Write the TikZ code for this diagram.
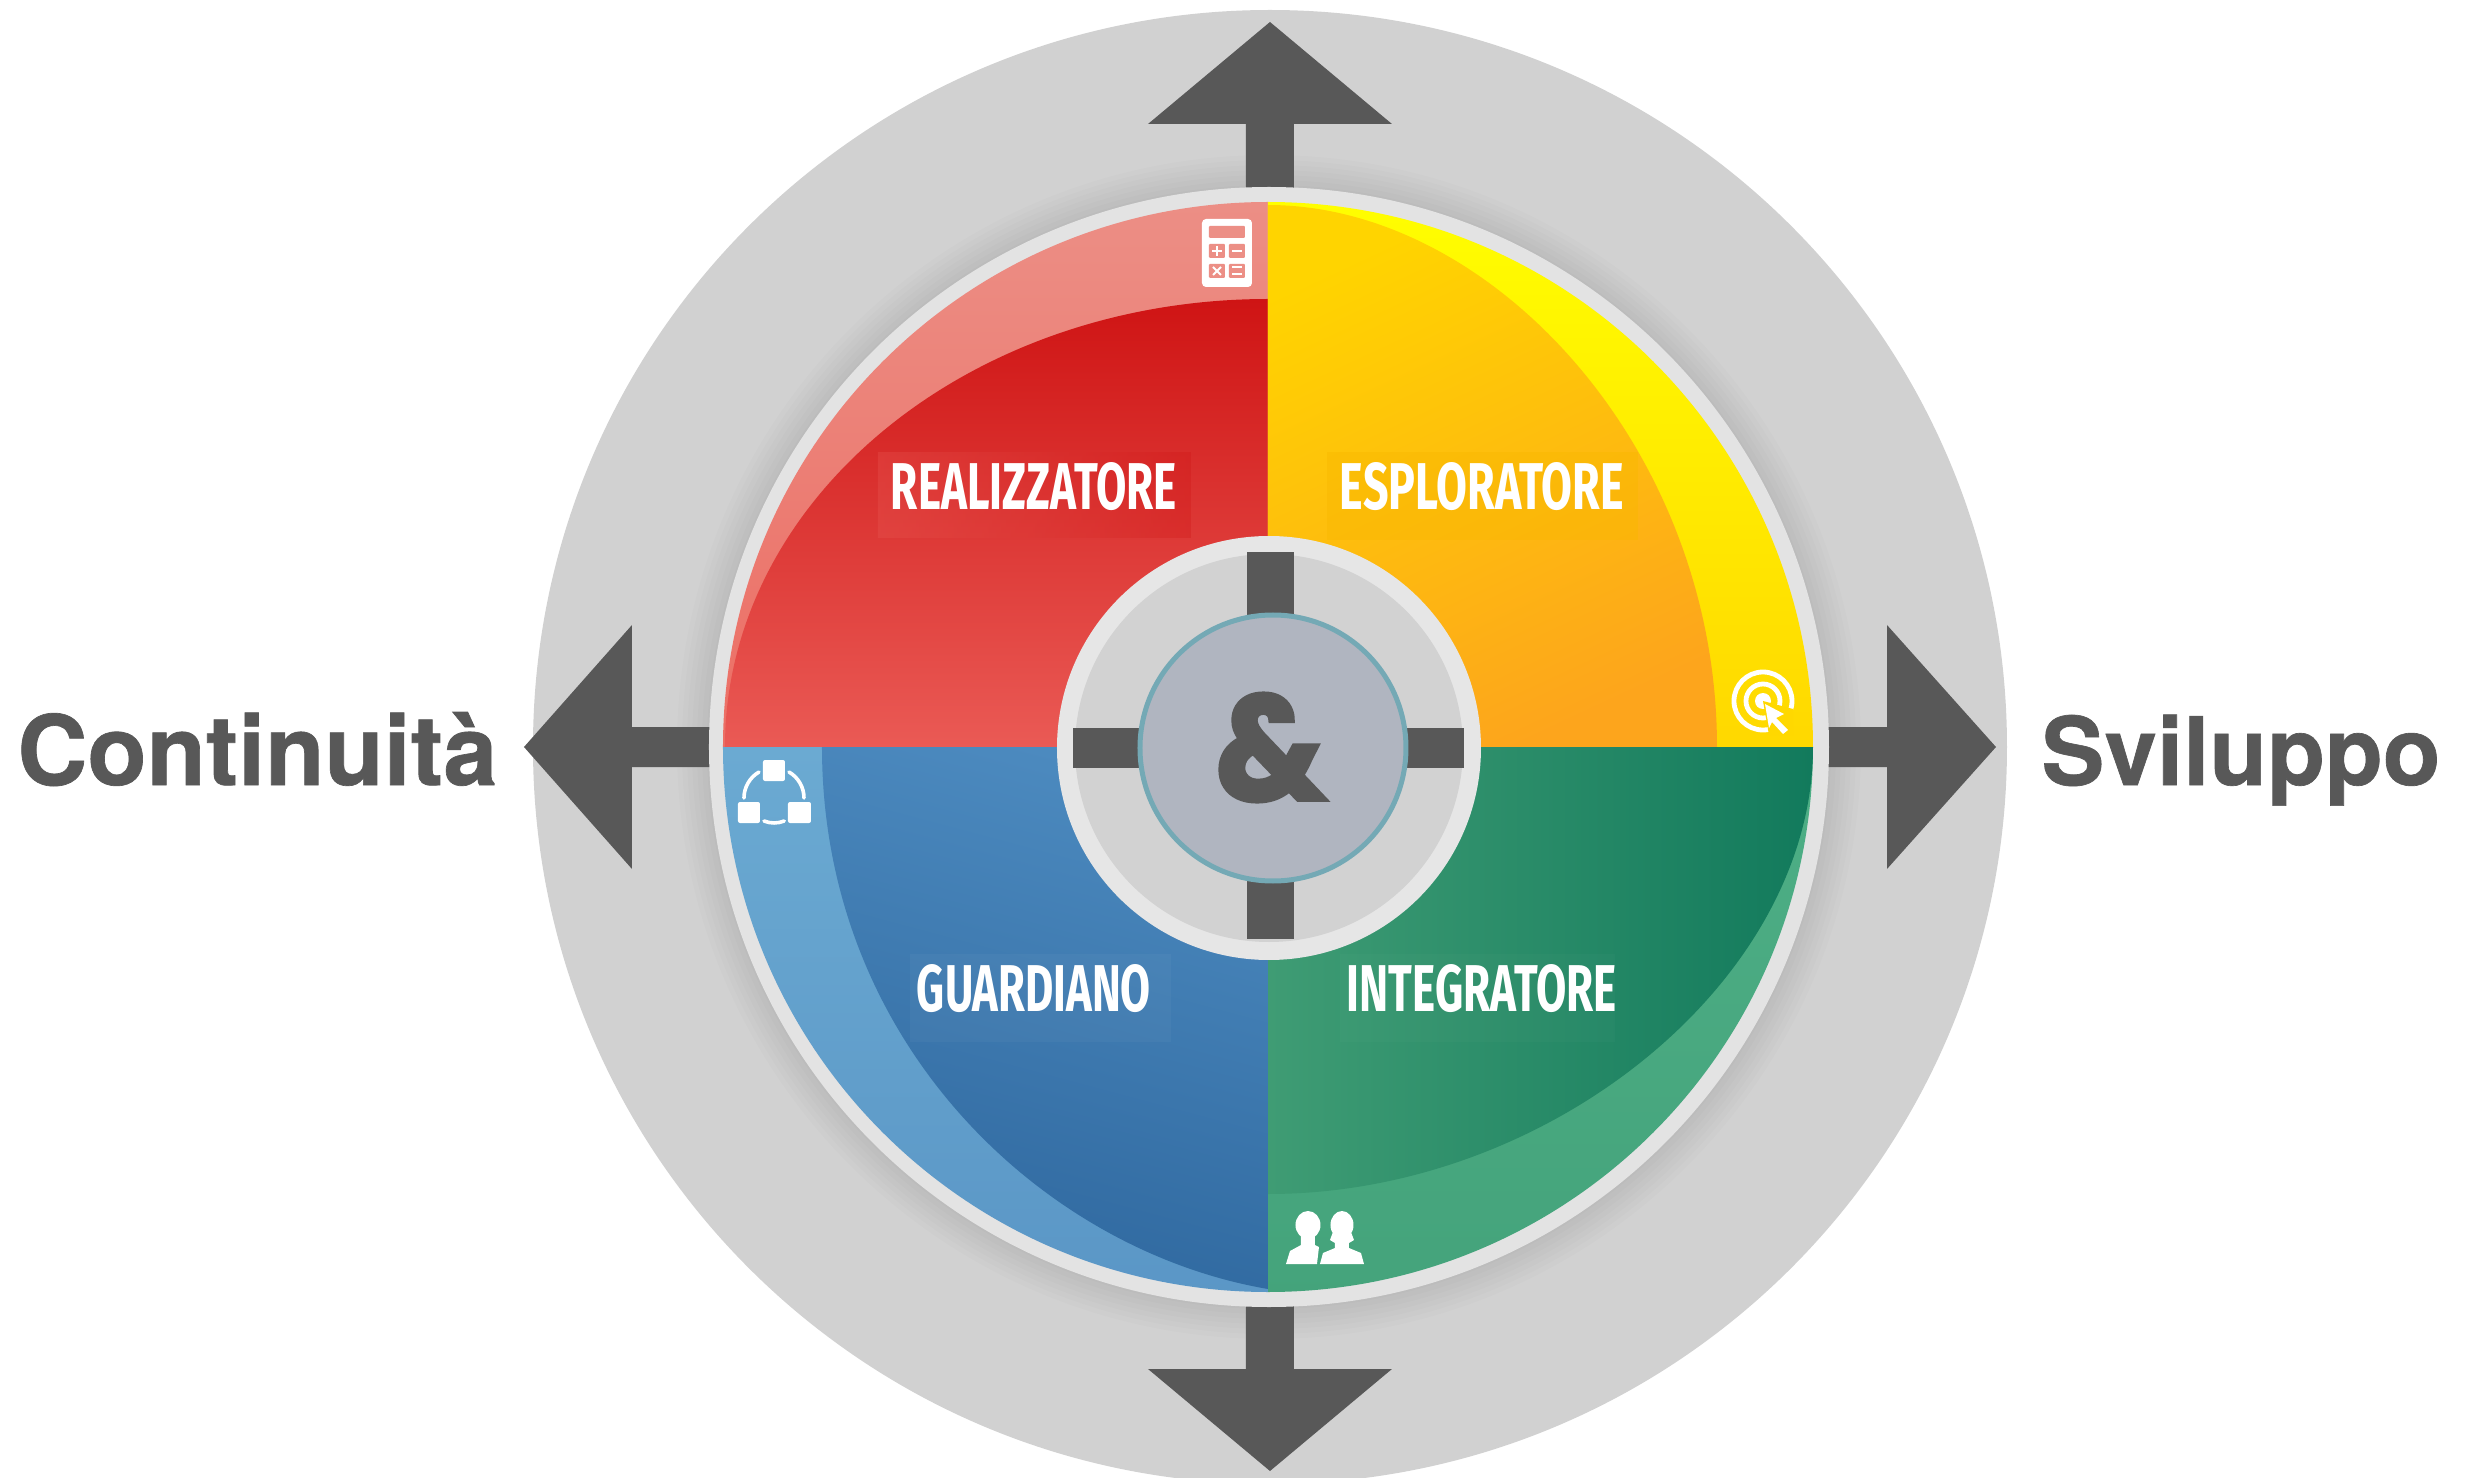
\documentclass[tikz,border=0pt]{standalone}
\usepackage{fontspec}
\setmainfont{Fira Sans}
\newfontfamily\headfont[FakeBold=0.7]{TeX Gyre Heros}
\newfontfamily\ampfont[FakeBold=3]{Poppins}
\definecolor{discgrey}{HTML}{D1D1D1}
\definecolor{ringgrey}{HTML}{E3E3E3}
\definecolor{hubring}{HTML}{E6E6E6}
\definecolor{hubgrey}{HTML}{D2D2D2}
\definecolor{arrowgrey}{HTML}{585858}
\definecolor{corefill}{HTML}{B0B5C0}
\definecolor{coreedge}{HTML}{74A9B5}
\definecolor{redlighttop}{HTML}{EC8F86}
\definecolor{redlightbot}{HTML}{EC6E64}
\definecolor{redtop}{HTML}{CF1414}
\definecolor{redbot}{HTML}{EA5A55}
\definecolor{yellowtop}{HTML}{FFFF00}
\definecolor{yellowbot}{HTML}{FFD800}
\definecolor{orangetop}{HTML}{FFD400}
\definecolor{orangebot}{HTML}{FDA51C}
\definecolor{orangepatch}{HTML}{F9B800}
\definecolor{greenlighttop}{HTML}{4EAF86}
\definecolor{greenlightbot}{HTML}{44A37B}
\definecolor{greenleft}{HTML}{3F9C74}
\definecolor{greenright}{HTML}{127A5C}
\definecolor{bluelighttop}{HTML}{6BAAD2}
\definecolor{bluelightbot}{HTML}{5A96C6}
\definecolor{bluetop}{HTML}{4C8ABF}
\definecolor{bluebot}{HTML}{2F689F}
\definecolor{pinkicon}{HTML}{EC8F86}
\tikzset{
  x=0.5pt,y=0.5pt,
  arrowshape/.style={fill=arrowgrey,draw=none},
  quadlabel/.style={inner sep=0pt,text=white,font=\bfseries},
  sidelabel/.style={inner sep=0pt,text=arrowgrey,font=\headfont\bfseries,anchor=base west},
  iconwhite/.style={fill=white,draw=none},
  iconline/.style={draw=white,line width=1.8pt,fill=none},
}
\begin{document}
\begin{tikzpicture}
\useasboundingbox (-1270,-731) rectangle (1200,747);
% outer disc and soft shadow
\fill[discgrey] (0,0) circle[radius=737];
\foreach \r in {592,587,...,562}{\fill[black,opacity=.012] (-1,0) circle[radius=\r];}
% outer arrows
\fill[arrowshape] (0,725) -- (122,623) -- (24,623) -- (24,540) -- (-24,540) -- (-24,623) -- (-122,623) -- cycle;
\fill[arrowshape] (0,-724) -- (122,-622) -- (24,-622) -- (24,-540) -- (-24,-540) -- (-24,-622) -- (-122,-622) -- cycle;
\fill[arrowshape] (-746,0) -- (-638,122) -- (-638,20) -- (-540,20) -- (-540,-20) -- (-638,-20) -- (-638,-122) -- cycle;
\fill[arrowshape] (726,0) -- (617,122) -- (617,20) -- (540,20) -- (540,-20) -- (617,-20) -- (617,-122) -- cycle;
% ring
\fill[ringgrey] (-1,0) circle[radius=560];
% quadrant: top left
\begin{scope}
  \clip (-2,0) -- (-547,0) arc[start angle=180,end angle=90,radius=545] -- cycle;
  \shade[top color=redlighttop,bottom color=redlightbot] (-560,0) rectangle (-2,560);
  \shade[top color=redtop,bottom color=redbot] (-2,0) -- (-545,0) arc[start angle=180,end angle=90,x radius=543,y radius=448] -- cycle;
  \shade[left color=redbot,right color=redtop,opacity=.3] (-392,294) rectangle (-79,209);
\end{scope}
% quadrant: top right
\begin{scope}
  \clip (-2,0) -- (543,0) arc[start angle=0,end angle=90,radius=545] -- cycle;
  \shade[top color=yellowtop,bottom color=yellowbot] (-2,0) rectangle (560,560);
  \shade[top color=orangetop,bottom color=orangebot,shading angle=25] (-2,0) -- (447,0) .. controls (447,298) and (222,542) .. (-2,542) -- cycle;
  \fill[orangepatch,opacity=.45] (57,295) rectangle (368,207);
\end{scope}
% quadrant: bottom right
\begin{scope}
  \clip (-2,0) -- (543,0) arc[start angle=0,end angle=-90,radius=545] -- cycle;
  \shade[top color=greenlighttop,bottom color=greenlightbot] (-2,0) rectangle (560,-560);
  \shade[left color=greenleft,right color=greenright] (-2,0) -- (543,0) .. controls (543,-232) and (281,-447) .. (-2,-447) -- cycle;
  \fill[white,opacity=.02] (70,-207) rectangle (345,-295);
\end{scope}
% quadrant: bottom left
\begin{scope}
  \clip (-2,0) -- (-547,0) arc[start angle=180,end angle=270,radius=545] -- cycle;
  \shade[top color=bluelighttop,bottom color=bluelightbot] (-2,0) rectangle (-560,-560);
  \shade[top color=bluetop,bottom color=bluebot,shading angle=-15] (-2,0) -- (-448,0) .. controls (-448,-298) and (-225,-504) .. (-2,-542) -- cycle;
  \fill[white,opacity=.035] (-360,-207) rectangle (-99,-295);
\end{scope}
% quadrant labels
\node[quadlabel] (realizzatore) at (-236,260) {\resizebox{143pt}{23.5pt}{REALIZZATORE}};
\node[quadlabel] (esploratore) at (212,260) {\resizebox{142pt}{23.5pt}{ESPLORATORE}};
\node[quadlabel] (guardiano) at (-236,-242) {\resizebox{117pt}{23.5pt}{GUARDIANO}};
\node[quadlabel] (integratore) at (212,-242) {\resizebox{135pt}{23.5pt}{INTEGRATORE}};
% hub
\fill[hubring] (-1,-1) circle[radius=212];
\fill[hubgrey] (-1,-1) circle[radius=194];
\fill[arrowgrey] (-23,195) rectangle (24,0);
\fill[arrowgrey] (-23,-192) rectangle (24,0);
\fill[arrowgrey] (-197,19) rectangle (0,-21);
\fill[arrowgrey] (194,19) rectangle (0,-21);
\draw[fill=corefill,draw=coreedge,line width=2.5pt] (3,-1) circle[radius=133];
\node[inner sep=0pt,text=arrowgrey,font=\ampfont\bfseries] (amp) at (0.5,-0.5) {\resizebox{55pt}{53pt}{\&}};
% side labels
\node[sidelabel] (continuita) at (-1253,-38) {\resizebox{240pt}{!}{Continuità}};
\node[sidelabel] (sviluppo) at (771,-38) {\resizebox{199.5pt}{!}{Sviluppo}};
% calculator icon
\begin{scope}[shift={(-43,494)}]
  \fill[iconwhite,rounded corners=2pt] (-25,-34) rectangle (25,34);
  \fill[pinkicon,rounded corners=.5pt] (-18,15) rectangle (18,27);
  \foreach \cx in {-10,10}\foreach \cy in {2,-18}{
    \fill[pinkicon,rounded corners=.5pt] (\cx-8,\cy-7) rectangle (\cx+8,\cy+7);}
  \fill[white] (-15,1) rectangle (-5,3);\fill[white] (-11,-3) rectangle (-9,7);
  \fill[white] (5,1) rectangle (15,3);
  \fill[white] (5,-15.5) rectangle (15,-13.5);\fill[white] (5,-22.5) rectangle (15,-20.5);
  \draw[white,line width=1pt] (-14,-22) -- (-6,-14) (-14,-14) -- (-6,-22);
\end{scope}
% target icon
\begin{scope}[shift={(493,46)}]
  \draw[white,line width=2.4pt] (0,0) circle[radius=29];
  \draw[white,line width=2.4pt] (0,0) circle[radius=17];
  \fill[white] (0,0) circle[radius=8];
  \fill[yellowbot] (0,0) -- (6,-34) -- (30,-34) -- (30,-8) -- cycle;
  \fill[iconwhite] (2,-3) -- (21,-13) -- (13,-17) -- (25,-29) -- (20,-33) -- (9,-21) -- (6,-27) -- cycle;
\end{scope}
% network icon
\begin{scope}[shift={(-496,-50)}]
  \draw[iconline,line cap=round] (-30,-1) arc[start angle=180,end angle=120,radius=30];
  \draw[iconline,line cap=round] (15,25) arc[start angle=60,end angle=0,radius=30];
  \draw[iconline,line cap=round] (-10,-24) arc[start angle=248,end angle=292,radius=27];
  \fill[iconwhite,rounded corners=1pt] (-11,37) rectangle (11,16);
  \fill[iconwhite,rounded corners=1pt] (-36,-5) rectangle (-14,-26);
  \fill[iconwhite,rounded corners=1pt] (14,-5) rectangle (37,-26);
\end{scope}
% people icon
\begin{scope}[shift={(38,-517)}]
  \fill[iconwhite] (0,39) ellipse[x radius=12.5,y radius=14];
  \fill[iconwhite] (-22,0) -- (-18,13) -- (-7,19) -- (-7,30) -- (7,30) -- (7,19) -- (11,17) -- (9,0) -- cycle;
  \fill[iconwhite] (34,39) ellipse[x radius=11.5,y radius=14];
  \fill[iconwhite] (22,24) -- (25,32) -- (43,32) -- (46,24) -- (41,21) -- (41,16) -- (53,11) -- (56,0) -- (12,0) -- (15,11) -- (27,16) -- (27,21) -- cycle;
\end{scope}
\end{tikzpicture}
\end{document}
